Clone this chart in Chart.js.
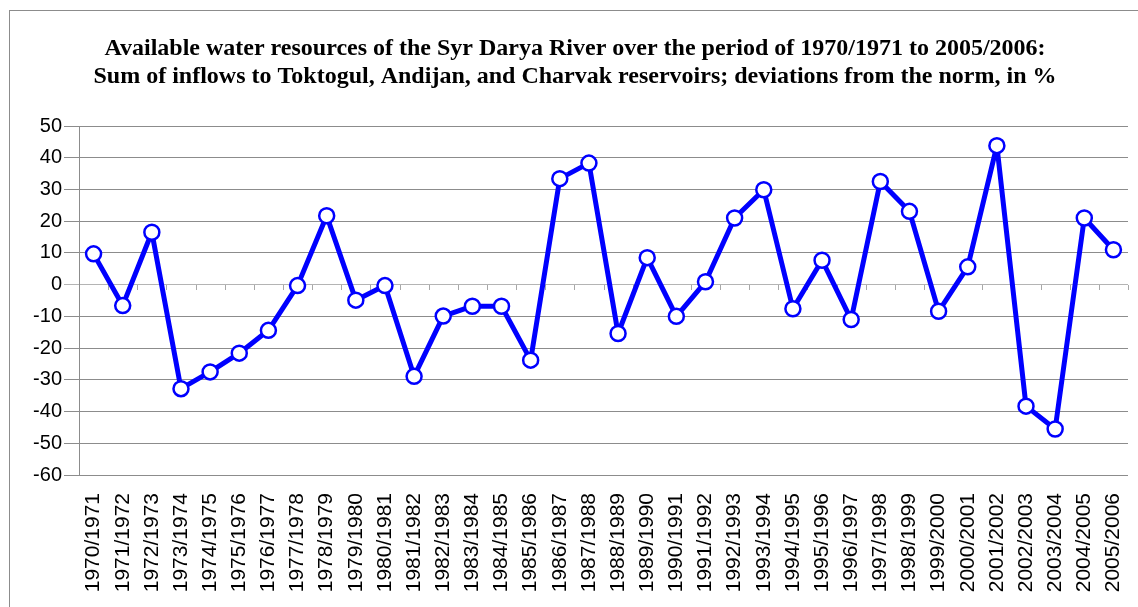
<!DOCTYPE html>
<html>
<head>
<meta charset="utf-8">
<script src="https://cdn.jsdelivr.net/npm/chart.js@4.4.1/dist/chart.umd.min.js"></script>
<style>
  html, body { margin: 0; padding: 0; background: #fff; overflow: hidden; }
  #wrap { position: relative; width: 1138px; height: 607px; }
  #frame { position: absolute; left: 9px; top: 10px; width: 1200px; height: 700px; border: 1px solid #8c8c8c; }
  canvas { position: absolute; left: 0; top: 0; }
</style>
</head>
<body>
<div id="wrap">
  <div id="frame"></div>
  <canvas id="waterChart" width="1138" height="607"></canvas>
</div>
<script>
const seasons = [
  '1970/1971', '1971/1972', '1972/1973', '1973/1974', '1974/1975', '1975/1976',
  '1976/1977', '1977/1978', '1978/1979', '1979/1980', '1980/1981', '1981/1982',
  '1982/1983', '1983/1984', '1984/1985', '1985/1986', '1986/1987', '1987/1988',
  '1988/1989', '1989/1990', '1990/1991', '1991/1992', '1992/1993', '1993/1994',
  '1994/1995', '1995/1996', '1996/1997', '1997/1998', '1998/1999', '1999/2000',
  '2000/2001', '2001/2002', '2002/2003', '2003/2004', '2004/2005', '2005/2006'
];
const deviations = [
  9.7, -6.6, 16.5, -32.8, -27.5, -21.6, -14.4, -0.3, 21.7, -4.9,
  -0.3, -28.9, -9.9, -6.8, -6.8, -23.8, 33.4, 38.3, -15.4, 8.5,
  -10.0, 0.9, 21.0, 29.9, -7.6, 7.7, -11.0, 32.5, 23.1, -8.4,
  5.6, 43.8, -38.3, -45.5, 21.0, 11.0
];
const yMin = -60;
const yMax = 50;
const yStep = 10;

// small tick marks on the zero line between categories (Excel style)
const zeroTicks = {
  id: 'zeroTicks',
  beforeDatasetsDraw(chart) {
    const { ctx, chartArea, scales } = chart;
    const y0 = Math.round(scales.y.getPixelForValue(0));
    const w = chartArea.width / seasons.length;
    ctx.save();
    ctx.strokeStyle = '#a8a8a8';
    ctx.lineWidth = 1;
    ctx.beginPath();
    for (let i = 1; i <= seasons.length; i++) {
      const x = Math.round(chartArea.left + i * w) + 0.5;
      ctx.moveTo(x, y0);
      ctx.lineTo(x, y0 + 5);
    }
    ctx.stroke();
    ctx.restore();
  }
};

const ctx = document.getElementById('waterChart').getContext('2d');
const waterChart = new Chart(ctx, {
  type: 'line',
  data: {
    labels: seasons,
    datasets: [{
      label: 'Deviation, %',
      data: deviations,
      borderColor: '#0000ff',
      borderWidth: 5,
      borderJoinStyle: 'round',
      pointRadius: 7.5,
      pointBorderWidth: 2.5,
      pointBackgroundColor: '#ffffff',
      pointBorderColor: '#0000ff',
      tension: 0
    }]
  },
  options: {
    responsive: false,
    animation: false,
    layout: { padding: { left: 22, right: 10, top: 0, bottom: 0 } },
    plugins: {
      legend: { display: false },
      tooltip: { enabled: false },
      title: {
        display: true,
        text: [
          'Available water resources of the Syr Darya River over the period of 1970/1971 to 2005/2006:',
          'Sum of inflows to Toktogul, Andijan, and Charvak reservoirs; deviations from the norm, in %'
        ],
        color: '#000',
        font: { family: '"Liberation Serif", "Times New Roman", serif', size: 24, weight: 'bold', lineHeight: 1.1667 },
        padding: { top: 35, bottom: 35 }
      }
    },
    scales: {
      x: {
        offset: true,
        grid: { display: false, drawTicks: false, offset: true },
        border: { display: false },
        afterFit(scale) { scale.paddingLeft = 0; scale.paddingRight = 0; scale.height = 132; },
        ticks: {
          autoSkip: false,
          minRotation: 90,
          maxRotation: 90,
          padding: 18,
          color: '#000',
          font: { family: '"Liberation Sans", Arial, sans-serif', size: 21 }
        }
      },
      y: {
        min: yMin,
        max: yMax,
        afterFit(scale) { scale.width = 57; },
        ticks: {
          stepSize: yStep,
          padding: 2,
          color: '#000',
          font: { family: '"Liberation Sans", Arial, sans-serif', size: 20 }
        },
        grid: {
          color: c => (c.tick && c.tick.value === 0) ? '#b4b4b4' : '#8c8c8c',
          lineWidth: 1,
          tickLength: 15
        },
        border: { color: '#8c8c8c', width: 1 }
      }
    }
  },
  plugins: [zeroTicks]
});
</script>
</body>
</html>
